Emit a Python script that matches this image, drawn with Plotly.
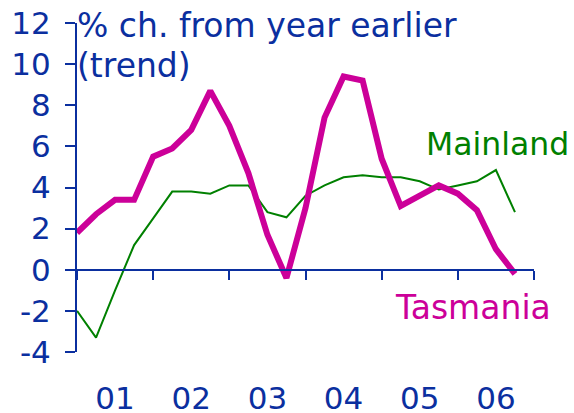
"""
Tasmania vs Mainland - % change from year earlier (trend), Plotly
"""

import plotly.graph_objects as go

# quarterly positions (decimal year)
quarters = [
    2001.00, 2001.25, 2001.50, 2001.75,
    2002.00, 2002.25, 2002.50, 2002.75,
    2003.00, 2003.25, 2003.50, 2003.75,
    2004.00, 2004.25, 2004.50, 2004.75,
    2005.00, 2005.25, 2005.50, 2005.75,
    2006.00, 2006.25, 2006.50, 2006.75,
]

tasmania = [
    1.8, 2.7, 3.4, 3.4, 5.5, 5.9, 6.8, 8.7,
    7.0, 4.7, 1.7, -0.4, 3.0, 7.4, 9.4, 9.2,
    5.4, 3.1, 3.6, 4.1, 3.7, 2.9, 1.0, -0.2,
]

mainland = [
    -2.0, -3.3, -1.0, 1.2, 2.5, 3.8, 3.8, 3.7,
    4.1, 4.1, 2.8, 2.55, 3.6, 4.1, 4.5, 4.6,
    4.5, 4.5, 4.3, 3.9, 4.1, 4.3, 4.85, 2.8,
]

year_mid = [2001.5, 2002.5, 2003.5, 2004.5, 2005.5, 2006.5]
year_labels = ["01", "02", "03", "04", "05", "06"]
year_bounds = [2001, 2002, 2003, 2004, 2005, 2006, 2007]
y_ticks = [-4, -2, 0, 2, 4, 6, 8, 10, 12]
y_labels = ["-4", "-2", "0", "2", "4", "6", "8", "10", "12"]

BLUE = "#0b2f9f"
PINK = "#cc0099"
GREEN = "#008000"
FONT = "DejaVu Sans"
TICK_SIZE = 31
TEXT_SIZE = 33

fig = go.Figure()

fig.add_trace(go.Scatter(
    x=quarters,
    y=mainland,
    mode="lines",
    name="Mainland",
    line=dict(color=GREEN, width=2),
))

fig.add_trace(go.Scatter(
    x=quarters,
    y=tasmania,
    mode="lines",
    name="Tasmania",
    line=dict(color=PINK, width=6),
))

# invisible trace so xaxis2 (the axis line at zero) is drawn
fig.add_trace(go.Scatter(
    x=[2001], y=[0], xaxis="x2", mode="markers",
    marker=dict(opacity=0), hoverinfo="skip",
))

fig.update_layout(
    width=574,
    height=413,
    margin=dict(l=77, r=40, t=23, b=61),
    paper_bgcolor="white",
    plot_bgcolor="white",
    showlegend=False,
    font=dict(family=FONT, size=TICK_SIZE, color=BLUE),
    xaxis=dict(
        range=[2001, 2007],
        tickvals=year_mid,
        ticktext=year_labels,
        ticks="",
        showline=False,
        showgrid=False,
        zeroline=False,
        automargin=False,
        ticklabelstandoff=25,
        tickfont=dict(family=FONT, size=TICK_SIZE, color=BLUE),
    ),
    xaxis2=dict(
        overlaying="x",
        anchor="free",
        position=0.25,
        range=[2001, 2007],
        tickvals=year_bounds,
        showticklabels=False,
        ticks="outside",
        ticklen=9,
        tickwidth=2,
        tickcolor=BLUE,
        showline=True,
        linecolor=BLUE,
        linewidth=2,
        showgrid=False,
        zeroline=False,
        automargin=False,
    ),
    yaxis=dict(
        range=[-4, 12],
        tickvals=y_ticks,
        ticktext=y_labels,
        ticks="outside",
        ticklen=10,
        tickwidth=2,
        tickcolor=BLUE,
        showline=True,
        linecolor=BLUE,
        linewidth=2,
        showgrid=False,
        zeroline=False,
        automargin=False,
        ticklabelstandoff=8,
        tickfont=dict(family=FONT, size=TICK_SIZE, color=BLUE),
    ),
)

fig.add_annotation(
    x=2001, y=11.9, xref="x", yref="y", xshift=-2,
    text="% ch. from year earlier",
    showarrow=False, xanchor="left", yanchor="middle",
    font=dict(family=FONT, size=TEXT_SIZE, color=BLUE),
)
fig.add_annotation(
    x=2001, y=9.95, xref="x", yref="y", xshift=-2,
    text="(trend)",
    showarrow=False, xanchor="left", yanchor="middle",
    font=dict(family=FONT, size=TEXT_SIZE, color=BLUE),
)
fig.add_annotation(
    x=2005.556, y=6.11, xref="x", yref="y",
    text="Mainland",
    showarrow=False, xanchor="left", yanchor="middle",
    font=dict(family=FONT, size=31.5, color=GREEN),
)
fig.add_annotation(
    x=2005.15, y=-1.82, xref="x", yref="y",
    text="Tasmania",
    showarrow=False, xanchor="left", yanchor="middle",
    font=dict(family=FONT, size=TEXT_SIZE, color=PINK),
)

# drop the browser's default 8px body margin so the figure fills the window
fig.write_html(
    "out.html",
    config={"displayModeBar": False},
    post_script="document.body.style.margin = '0';",
)
